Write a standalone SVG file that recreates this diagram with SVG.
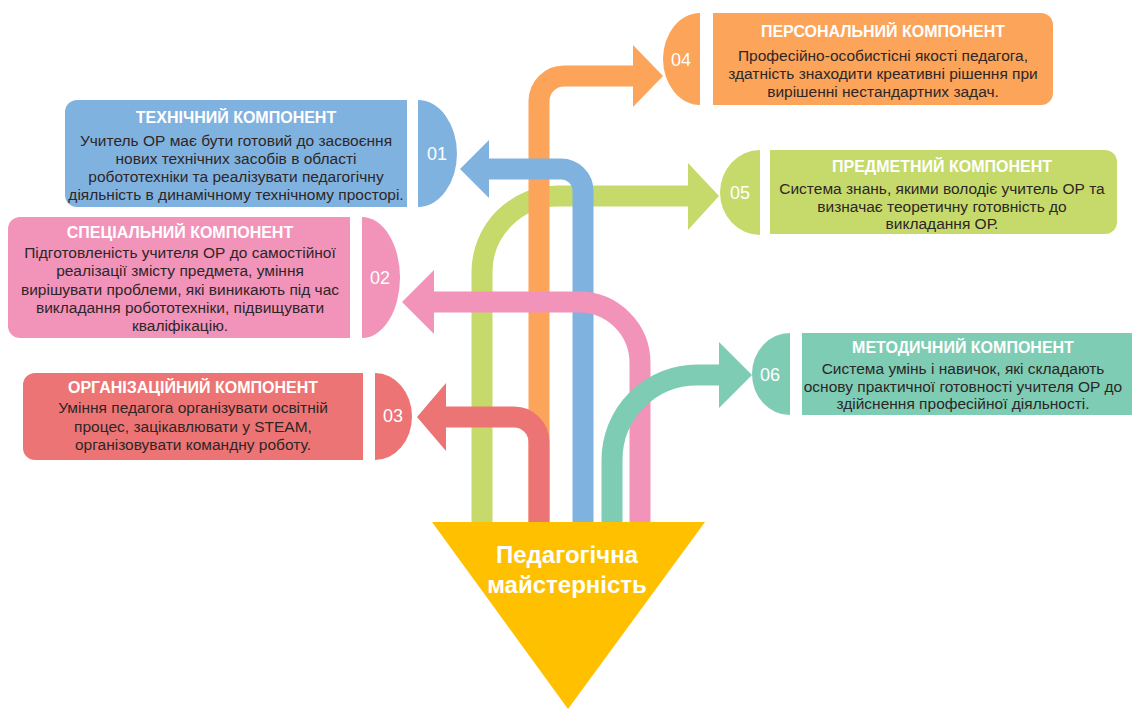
<svg xmlns="http://www.w3.org/2000/svg" width="1132" height="709" viewBox="0 0 1132 709">
<style>
.t{font-family:"Liberation Sans",Arial,sans-serif;font-size:16px;font-weight:bold;fill:#fff;text-anchor:middle}
.b{font-family:"Liberation Sans",Arial,sans-serif;font-size:15.5px;fill:#2e2626;text-anchor:middle}
.n{font-family:"Liberation Sans",Arial,sans-serif;font-size:18px;fill:#fff;text-anchor:middle}
.ln{fill:none;stroke-width:21}
.big{font-family:"Liberation Sans",Arial,sans-serif;font-size:24px;font-weight:bold;fill:#fff;text-anchor:middle}
</style>
<rect width="1132" height="709" fill="#fff"/>
<g id="connectors">
<path class="ln" stroke="#C5DA6B" d="M482,522 V272 A76,76 0 0 1 558,196 H690"/>
<polygon fill="#C5DA6B" points="688,163 719,196 688,230"/>
<path class="ln" stroke="#FBA45A" d="M539,522 V101 A25,25 0 0 1 564,76 H636"/>
<polygon fill="#FBA45A" points="633,45 663,76 633,107"/>
<path class="ln" stroke="#80B2E0" d="M583,522 V191 A22,22 0 0 0 561,169 H486"/>
<polygon fill="#80B2E0" points="489,140 460,169 489,198"/>
<path class="ln" stroke="#F293BA" d="M640,522 V363 A61,61 0 0 0 579,302 H431"/>
<polygon fill="#F293BA" points="434,270 402,302 434,334"/>
<path class="ln" stroke="#ED7474" d="M539,522 V442 A25,25 0 0 0 514,417 H443"/>
<polygon fill="#ED7474" points="446,383 417,417 446,451"/>
<path class="ln" stroke="#7ECCB4" d="M612,522 V460 A85,85 0 0 1 697,375 H721"/>
<polygon fill="#7ECCB4" points="719,342 752,375 719,408"/>
</g>
<g id="center">
<polygon fill="#FFC000" points="432,522 705,522 568,709"/>
<text class="big" x="567" y="563">Педагогічна</text>
<text class="big" x="567" y="593">майстерність</text>
</g>
<g id="node01">
<path fill="#80B2E0" d="M407,100 V207 H77 A12,12 0 0 1 65,195 V112 A12,12 0 0 1 77,100 Z"/>
<path fill="#80B2E0" d="M418,100 A39,53.5 0 0 1 418,207 Z"/>
<text class="n" x="437" y="160">01</text>
<text class="t" x="236" y="123">ТЕХНІЧНИЙ КОМПОНЕНТ</text>
<text class="b" x="236" y="146">Учитель ОР має бути готовий до засвоєння</text>
<text class="b" x="236" y="164">нових технічних засобів в області</text>
<text class="b" x="236" y="182">робототехніки та реалізувати педагогічну</text>
<text class="b" x="236" y="200">діяльність в динамічному технічному просторі.</text>
</g>
<g id="node02">
<path fill="#F293BA" d="M350,217 V338 H20 A12,12 0 0 1 8,326 V229 A12,12 0 0 1 20,217 Z"/>
<path fill="#F293BA" d="M362,217 A38,60.5 0 0 1 362,338 Z"/>
<text class="n" x="380" y="284">02</text>
<text class="t" x="180" y="238">СПЕЦІАЛЬНИЙ КОМПОНЕНТ</text>
<text class="b" x="180" y="258">Підготовленість учителя ОР до самостійної</text>
<text class="b" x="180" y="276">реалізації змісту предмета, уміння</text>
<text class="b" x="180" y="295">вирішувати проблеми, які виникають під час</text>
<text class="b" x="180" y="313">викладання робототехніки, підвищувати</text>
<text class="b" x="180" y="331">кваліфікацію.</text>
</g>
<g id="node03">
<path fill="#ED7474" d="M363,373 V460 H35 A12,12 0 0 1 23,448 V385 A12,12 0 0 1 35,373 Z"/>
<path fill="#ED7474" d="M375,373 A37,43.5 0 0 1 375,460 Z"/>
<text class="n" x="393" y="422">03</text>
<text class="t" x="193" y="393">ОРГАНІЗАЦІЙНИЙ КОМПОНЕНТ</text>
<text class="b" x="193" y="413">Уміння педагога організувати освітній</text>
<text class="b" x="193" y="432">процес, зацікавлювати у STEAM,</text>
<text class="b" x="193" y="450">організовувати командну роботу.</text>
</g>
<g id="node04">
<path fill="#FBA45A" d="M713,13 H1041 A12,12 0 0 1 1053,25 V93 A12,12 0 0 1 1041,105 H713 Z"/>
<path fill="#FBA45A" d="M700,13 A37,46 0 0 0 700,105 Z"/>
<text class="n" x="681" y="66">04</text>
<text class="t" x="883" y="37">ПЕРСОНАЛЬНИЙ КОМПОНЕНТ</text>
<text class="b" x="883" y="61">Професійно-особистісні якості педагога,</text>
<text class="b" x="883" y="79">здатність знаходити креативні рішення при</text>
<text class="b" x="883" y="97">вирішенні нестандартних задач.</text>
</g>
<g id="node05">
<path fill="#C5DA6B" d="M770,150 H1105 A12,12 0 0 1 1117,162 V222 A12,12 0 0 1 1105,234 H770 Z"/>
<path fill="#C5DA6B" d="M760,150 A40,42.5 0 0 0 760,235 Z"/>
<text class="n" x="740" y="199">05</text>
<text class="t" x="942" y="172">ПРЕДМЕТНИЙ КОМПОНЕНТ</text>
<text class="b" x="942" y="194">Система знань, якими володіє учитель ОР та</text>
<text class="b" x="942" y="212">визначає теоретичну готовність до</text>
<text class="b" x="942" y="229">викладання ОР.</text>
</g>
<g id="node06">
<path fill="#7ECCB4" d="M802,333 H1140 V415 H802 Z"/>
<path fill="#7ECCB4" d="M790,333 A38,41 0 0 0 790,415 Z"/>
<text class="n" x="770" y="381">06</text>
<text class="t" x="963" y="353">МЕТОДИЧНИЙ КОМПОНЕНТ</text>
<text class="b" x="963" y="374">Система умінь і навичок, які складають</text>
<text class="b" x="963" y="392">основу практичної готовності учителя ОР до</text>
<text class="b" x="963" y="409">здійснення професійної діяльності.</text>
</g>
</svg>
